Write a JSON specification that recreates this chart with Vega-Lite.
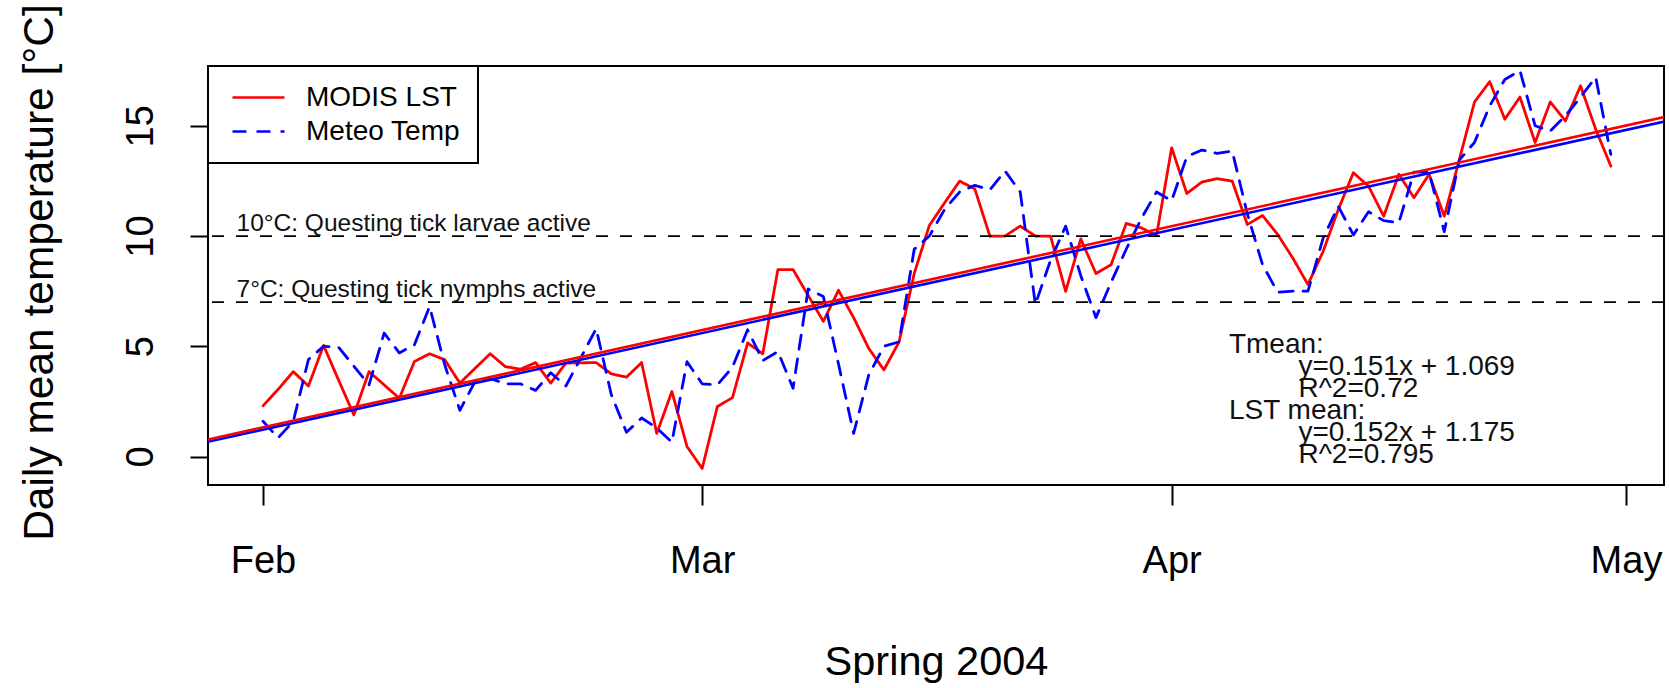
{
"$schema": "https://vega.github.io/schema/vega-lite/v6.json",
"width": 1456,
"height": 419,
"autosize": "none",
"padding": {"left": 208, "top": 66, "right": 5, "bottom": 203},
"background": "white",
"config": {
  "font": "Liberation Sans",
  "view": {"stroke": "black", "strokeWidth": 2},
  "axis": {"grid": false, "domain": false, "tickColor": "black", "tickWidth": 2, "labelColor": "black", "titleColor": "black", "labelFont": "Liberation Sans", "titleFont": "Liberation Sans", "titleFontWeight": "normal"}
},
"datasets": {
  "temps": [
    {"date": "2004-02-01", "lst": 2.30, "meteo": 1.6},
    {"date": "2004-02-02", "lst": 3.05, "meteo": 0.85},
    {"date": "2004-02-03", "lst": 3.85, "meteo": 1.6},
    {"date": "2004-02-04", "lst": 3.2, "meteo": 4.4},
    {"date": "2004-02-05", "lst": 5.04, "meteo": 5.0},
    {"date": "2004-02-06", "lst": 3.45, "meteo": 4.95},
    {"date": "2004-02-07", "lst": 1.89, "meteo": 4.1},
    {"date": "2004-02-08", "lst": 3.85, "meteo": 3.25},
    {"date": "2004-02-09", "lst": 3.25, "meteo": 5.6},
    {"date": "2004-02-10", "lst": 2.64, "meteo": 4.7},
    {"date": "2004-02-11", "lst": 4.31, "meteo": 5.07},
    {"date": "2004-02-12", "lst": 4.66, "meteo": 6.8},
    {"date": "2004-02-13", "lst": 4.39, "meteo": 4.16},
    {"date": "2004-02-14", "lst": 3.33, "meteo": 2.1},
    {"date": "2004-02-15", "lst": 4.0, "meteo": 3.4},
    {"date": "2004-02-16", "lst": 4.66, "meteo": 3.55},
    {"date": "2004-02-17", "lst": 4.08, "meteo": 3.3},
    {"date": "2004-02-18", "lst": 3.96, "meteo": 3.3},
    {"date": "2004-02-19", "lst": 4.26, "meteo": 3.0},
    {"date": "2004-02-20", "lst": 3.33, "meteo": 3.8},
    {"date": "2004-02-21", "lst": 4.24, "meteo": 3.2},
    {"date": "2004-02-22", "lst": 4.25, "meteo": 4.5},
    {"date": "2004-02-23", "lst": 4.26, "meteo": 5.8},
    {"date": "2004-02-24", "lst": 3.75, "meteo": 2.8},
    {"date": "2004-02-25", "lst": 3.6, "meteo": 1.1},
    {"date": "2004-02-26", "lst": 4.26, "meteo": 1.75},
    {"date": "2004-02-27", "lst": 1.05, "meteo": 1.3},
    {"date": "2004-02-28", "lst": 2.95, "meteo": 0.65},
    {"date": "2004-02-29", "lst": 0.45, "meteo": 4.3},
    {"date": "2004-03-01", "lst": -0.54, "meteo": 3.3},
    {"date": "2004-03-02", "lst": 2.27, "meteo": 3.25},
    {"date": "2004-03-03", "lst": 2.67, "meteo": 4.05},
    {"date": "2004-03-04", "lst": 5.15, "meteo": 5.75},
    {"date": "2004-03-05", "lst": 4.66, "meteo": 4.35},
    {"date": "2004-03-06", "lst": 8.48, "meteo": 4.76},
    {"date": "2004-03-07", "lst": 8.48, "meteo": 3.1},
    {"date": "2004-03-08", "lst": 7.3, "meteo": 7.6},
    {"date": "2004-03-09", "lst": 6.13, "meteo": 7.26},
    {"date": "2004-03-10", "lst": 7.54, "meteo": 4.2},
    {"date": "2004-03-11", "lst": 6.3, "meteo": 1.05},
    {"date": "2004-03-12", "lst": 4.9, "meteo": 3.7},
    {"date": "2004-03-13", "lst": 3.93, "meteo": 5.0},
    {"date": "2004-03-14", "lst": 5.2, "meteo": 5.2},
    {"date": "2004-03-15", "lst": 8.3, "meteo": 9.4},
    {"date": "2004-03-16", "lst": 10.48, "meteo": 10.0},
    {"date": "2004-03-17", "lst": 11.5, "meteo": 11.2},
    {"date": "2004-03-18", "lst": 12.49, "meteo": 12.0},
    {"date": "2004-03-19", "lst": 12.14, "meteo": 12.3},
    {"date": "2004-03-20", "lst": 9.99, "meteo": 12.1},
    {"date": "2004-03-21", "lst": 10.0, "meteo": 12.95},
    {"date": "2004-03-22", "lst": 10.45, "meteo": 12.0},
    {"date": "2004-03-23", "lst": 10.0, "meteo": 6.9},
    {"date": "2004-03-24", "lst": 10.0, "meteo": 8.9},
    {"date": "2004-03-25", "lst": 7.49, "meteo": 10.45},
    {"date": "2004-03-26", "lst": 9.87, "meteo": 8.2},
    {"date": "2004-03-27", "lst": 8.3, "meteo": 6.3},
    {"date": "2004-03-28", "lst": 8.7, "meteo": 7.9},
    {"date": "2004-03-29", "lst": 10.57, "meteo": 9.4},
    {"date": "2004-03-30", "lst": 10.37, "meteo": 10.8},
    {"date": "2004-03-31", "lst": 10.02, "meteo": 12.0},
    {"date": "2004-04-01", "lst": 14.0, "meteo": 11.6},
    {"date": "2004-04-02", "lst": 11.93, "meteo": 13.6},
    {"date": "2004-04-03", "lst": 12.45, "meteo": 13.9},
    {"date": "2004-04-04", "lst": 12.6, "meteo": 13.75},
    {"date": "2004-04-05", "lst": 12.49, "meteo": 13.85},
    {"date": "2004-04-06", "lst": 10.52, "meteo": 11.0},
    {"date": "2004-04-07", "lst": 10.93, "meteo": 8.7},
    {"date": "2004-04-08", "lst": 10.07, "meteo": 7.45},
    {"date": "2004-04-09", "lst": 9.0, "meteo": 7.5},
    {"date": "2004-04-10", "lst": 7.8, "meteo": 7.5},
    {"date": "2004-04-11", "lst": 9.3, "meteo": 9.9},
    {"date": "2004-04-12", "lst": 11.2, "meteo": 11.35},
    {"date": "2004-04-13", "lst": 12.87, "meteo": 10.05},
    {"date": "2004-04-14", "lst": 12.26, "meteo": 11.1},
    {"date": "2004-04-15", "lst": 10.9, "meteo": 10.7},
    {"date": "2004-04-16", "lst": 12.8, "meteo": 10.6},
    {"date": "2004-04-17", "lst": 11.74, "meteo": 12.9},
    {"date": "2004-04-18", "lst": 12.8, "meteo": 12.9},
    {"date": "2004-04-19", "lst": 10.9, "meteo": 10.2},
    {"date": "2004-04-20", "lst": 13.48, "meteo": 13.45},
    {"date": "2004-04-21", "lst": 16.08, "meteo": 14.25},
    {"date": "2004-04-22", "lst": 17.0, "meteo": 15.9},
    {"date": "2004-04-23", "lst": 15.3, "meteo": 17.1},
    {"date": "2004-04-24", "lst": 16.3, "meteo": 17.5},
    {"date": "2004-04-25", "lst": 14.24, "meteo": 15.0},
    {"date": "2004-04-26", "lst": 16.08, "meteo": 14.76},
    {"date": "2004-04-27", "lst": 15.22, "meteo": 15.45},
    {"date": "2004-04-28", "lst": 16.81, "meteo": 16.3},
    {"date": "2004-04-29", "lst": 14.84, "meteo": 17.2},
    {"date": "2004-04-30", "lst": 13.17, "meteo": 13.7}
  ],
  "fits": [
    {"date": "2004-01-28", "series": "meteo", "temp": 0.616},
    {"date": "2004-05-04", "series": "meteo", "temp": 15.263},
    {"date": "2004-01-28", "series": "lst", "temp": 0.719},
    {"date": "2004-05-04", "series": "lst", "temp": 15.463}
  ],
  "levels": [
    {"date": "2004-01-30T06:00:00Z", "temp": 7, "label": "7°C: Questing tick nymphs active"},
    {"date": "2004-01-30T06:00:00Z", "temp": 10, "label": "10°C: Questing tick larvae active"}
  ],
  "notes": [
    {"date": "2004-04-04T18:45:00Z", "temp": 4.70, "label": "Tmean:"},
    {"date": "2004-04-09T09:00:00Z", "temp": 3.70, "label": "y=0.151x + 1.069"},
    {"date": "2004-04-09T09:00:00Z", "temp": 2.72, "label": "R^2=0.72"},
    {"date": "2004-04-04T18:45:00Z", "temp": 1.70, "label": "LST mean:"},
    {"date": "2004-04-09T09:00:00Z", "temp": 0.72, "label": "y=0.152x + 1.175"},
    {"date": "2004-04-09T09:00:00Z", "temp": -0.28, "label": "R^2=0.795"}
  ]
},
"layer": [
  {
    "data": {"name": "temps"},
    "transform": [{"fold": ["lst", "meteo"], "as": ["series", "temp"]}],
    "mark": {"type": "line", "strokeWidth": 2.8, "strokeCap": "round", "strokeJoin": "round"},
    "encoding": {
      "x": {"field": "date", "type": "temporal",
        "scale": {"type": "utc", "domain": [{"year": 2004, "month": 1, "date": 28, "hours": 8, "minutes": 50, "utc": true}, {"year": 2004, "month": 5, "date": 3, "hours": 12, "minutes": 14, "utc": true}]},
        "axis": {"title": "Spring 2004",
          "values": [{"year": 2004, "month": 2, "date": 1, "utc": true}, {"year": 2004, "month": 3, "date": 1, "utc": true}, {"year": 2004, "month": 4, "date": 1, "utc": true}, {"year": 2004, "month": 5, "date": 1, "utc": true}],
          "labelExpr": "utcFormat(datum.value, '%b')",
          "labelFontSize": 38, "labelBaseline": "alphabetic", "labelPadding": 67, "tickSize": 20,
          "labelFlush": false, "labelOverlap": false, "labelBound": false,
          "titleFontSize": 41.5, "titleY": 189, "titleBaseline": "alphabetic"}},
      "y": {"field": "temp", "type": "quantitative",
        "scale": {"domain": [-1.29, 17.71], "nice": false, "zero": false},
        "axis": {"title": "Daily mean temperature [°C]", "values": [0, 5, 10, 15],
          "labelAngle": -90, "labelAlign": "center", "labelBaseline": "alphabetic",
          "labelFontSize": 38, "tickSize": 18, "labelPadding": 38,
          "titleFontSize": 42.5, "titleX": -156, "titleY": 206, "titleAngle": -90, "titleAlign": "center", "titleBaseline": "alphabetic"}},
      "color": {"field": "series", "type": "nominal",
        "scale": {"domain": ["lst", "meteo"], "range": ["#ff0000", "#0000ff"]},
        "legend": {"title": null, "orient": "top-left", "offset": 0, "padding": 17, "strokeColor": "black", "fillColor": "white",
          "symbolType": "M-2,0H2", "symbolSize": 676, "symbolStrokeWidth": 2.5, "symbolOffset": 19,
          "labelFontSize": 28, "labelFont": "Liberation Sans", "labelColor": "black", "labelOffset": 33, "rowPadding": 5, "labelLimit": 400,
          "labelExpr": "datum.value == 'lst' ? 'MODIS LST' : 'Meteo Temp'",
          "encode": {"legend": {"update": {"strokeWidth": {"value": 2}}}}}},
      "strokeDash": {"field": "series", "type": "nominal",
        "scale": {"domain": ["lst", "meteo"], "range": [[1, 0], [14, 10]]},
        "legend": {"title": null, "orient": "top-left", "offset": 0, "padding": 17, "strokeColor": "black", "fillColor": "white",
          "symbolType": "M-2,0H2", "symbolSize": 676, "symbolStrokeWidth": 2.5, "symbolOffset": 19,
          "labelFontSize": 28, "labelFont": "Liberation Sans", "labelColor": "black", "labelOffset": 33, "rowPadding": 5, "labelLimit": 400,
          "labelExpr": "datum.value == 'lst' ? 'MODIS LST' : 'Meteo Temp'",
          "encode": {"legend": {"update": {"strokeWidth": {"value": 2}}}}}}
    }
  },
  {
    "data": {"name": "levels"},
    "mark": {"type": "rule", "color": "black", "strokeWidth": 1.8, "strokeDash": [12, 12]},
    "encoding": {"y": {"field": "temp", "type": "quantitative"}}
  },
  {
    "data": {"name": "levels"},
    "mark": {"type": "text", "align": "left", "baseline": "alphabetic", "dy": -5, "fontSize": 24.5, "color": "#111111", "font": "Liberation Sans"},
    "encoding": {
      "x": {"field": "date", "type": "temporal"},
      "y": {"field": "temp", "type": "quantitative"},
      "text": {"field": "label"}
    }
  },
  {
    "data": {"name": "fits"},
    "transform": [{"filter": "datum.series == 'meteo'"}],
    "mark": {"type": "line", "color": "#0000ff", "strokeWidth": 2.6, "clip": true},
    "encoding": {"x": {"field": "date", "type": "temporal"}, "y": {"field": "temp", "type": "quantitative"}}
  },
  {
    "data": {"name": "fits"},
    "transform": [{"filter": "datum.series == 'lst'"}],
    "mark": {"type": "line", "color": "#ff0000", "strokeWidth": 2.6, "clip": true},
    "encoding": {"x": {"field": "date", "type": "temporal"}, "y": {"field": "temp", "type": "quantitative"}}
  },
  {
    "data": {"name": "notes"},
    "mark": {"type": "text", "align": "left", "baseline": "alphabetic", "fontSize": 28, "color": "#111111", "font": "Liberation Sans"},
    "encoding": {
      "x": {"field": "date", "type": "temporal"},
      "y": {"field": "temp", "type": "quantitative"},
      "text": {"field": "label"}
    }
  }
]
}
